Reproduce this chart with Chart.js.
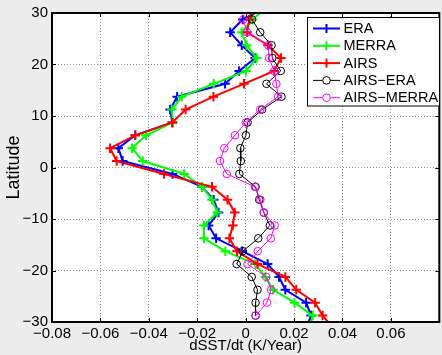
<!DOCTYPE html>
<html>
<head>
<meta charset="utf-8">
<script src="https://cdn.jsdelivr.net/npm/chart.js@4.4.1/dist/chart.umd.min.js"></script>
<style>
  html, body { margin: 0; padding: 0; background: #ececec; overflow: hidden; }
  #grafik { display: block; }
</style>
</head>
<body>
<canvas id="grafik" width="446" height="355"></canvas>
<script>
// latitude of each sample (the outer two lie just outside the axes and get clipped)
const latitude = [31.25, 28.75, 26.25, 23.75, 21.25, 18.75, 16.25, 13.75, 11.25, 8.75, 6.25, 3.75, 1.25,
    -1.25, -3.75, -6.25, -8.75, -11.25, -13.75, -16.25, -18.75, -21.25, -23.75, -26.25, -28.75, -31.25];

const era = [0.0090, -0.0012, -0.0064, -0.0016, 0.0039, -0.0027, -0.0085, -0.0283, -0.0312, -0.0303, -0.0456, -0.0526, -0.0508,
    -0.0302, -0.0180, -0.0132, -0.0112, -0.0153, -0.0122, -0.0014, 0.0091, 0.0138, 0.0164, 0.0250, 0.0270, 0.0250];
const merra = [0.0090, 0.0028, -0.0016, 0.0004, 0.0046, 0.0002, -0.0132, -0.0264, -0.0305, -0.0300, -0.0412, -0.0469, -0.0425,
    -0.0254, -0.0180, -0.0139, -0.0117, -0.0173, -0.0172, -0.0084, 0.0040, 0.0082, 0.0114, 0.0202, 0.0277, 0.0265];
const airs = [0.0050, 0.0015, 0.0006, 0.0092, 0.0146, 0.0118, -0.0007, -0.0133, -0.0248, -0.0303, -0.0456, -0.0560, -0.0533,
    -0.0337, -0.0139, -0.0075, -0.0045, -0.0053, -0.0067, -0.0036, 0.0049, 0.0164, 0.0209, 0.0287, 0.0318, 0.0364];
const airsEra = [null, 0.0026, 0.0060, 0.0107, 0.0110, 0.0145, 0.0086, 0.0148, 0.0068, 0.0008, 0.0001, -0.0022, -0.0020,
    -0.0026, 0.0041, 0.0056, 0.0075, 0.0100, 0.0052, -0.0012, -0.0037, 0.0025, 0.0049, 0.0041, 0.0041, null];
const airsMerra = [null, -0.0010, 0.0006, 0.0093, 0.0097, 0.0118, 0.0127, 0.0134, 0.0060, 0.0001, -0.0044, -0.0088, -0.0106,
    -0.0078, 0.0038, 0.0061, 0.0075, 0.0120, 0.0104, 0.0050, 0.0008, 0.0085, 0.0105, 0.0088, 0.0042, null];

const xTicks = [-0.08, -0.06, -0.04, -0.02, 0, 0.02, 0.04, 0.06];
const yTicks = [-30, -20, -10, 0, 10, 20, 30];

const FONT = 'Liberation Sans, Arial, Helvetica, sans-serif';

function points(values) {
    let out = [];
    values.forEach((v, i) => {
        if (v !== null) out.push({ x: v, y: latitude[i] });
    });
    return out;
}

function fmtX(v) {
    let r = Math.round(v * 100) / 100;
    if (r === 0) return '0';
    return (r < 0 ? '\u2212' : '') + Math.abs(r).toFixed(2);
}

function fmtY(v) {
    return (v < 0 ? '\u2212' : '') + Math.abs(v);
}

function plusSet(label, color, values, order) {
    return {
        label: label, data: points(values), order: order,
        borderColor: color, backgroundColor: color, borderWidth: 2,
        pointStyle: 'cross', pointRadius: 4.7, pointBorderWidth: 2, pointHoverRadius: 4.7,
        showLine: true, clip: 0
    };
}

function circleSet(label, color, values, order) {
    return {
        label: label, data: points(values), order: order,
        borderColor: color, backgroundColor: 'rgba(0,0,0,0)', borderWidth: 1,
        pointStyle: 'circle', pointRadius: 3.8, pointBorderWidth: 1, pointHoverRadius: 3.8,
        showLine: true, clip: 0
    };
}

// white plot area, black frame with inward ticks, boxed legend
const matlabLook = {
    id: 'matlabLook',
    beforeDraw(chart) {
        const { ctx, chartArea: a } = chart;
        ctx.save();
        ctx.fillStyle = '#ececec';
        ctx.fillRect(0, 0, chart.width, chart.height);
        ctx.fillStyle = '#ffffff';
        ctx.fillRect(a.left, a.top, a.right - a.left, a.bottom - a.top);
        ctx.restore();
    },
    afterDraw(chart) {
        const { ctx, chartArea: a } = chart;
        const xs = chart.scales.x, ys = chart.scales.y;
        ctx.save();
        ctx.strokeStyle = '#000';
        ctx.lineWidth = 1;
        ctx.beginPath();
        xTicks.forEach(t => {
            let px = Math.round(xs.getPixelForValue(t)) + 0.5;
            ctx.moveTo(px, a.bottom); ctx.lineTo(px, a.bottom - 4);
            ctx.moveTo(px, a.top); ctx.lineTo(px, a.top + 4);
        });
        yTicks.forEach(t => {
            let py = Math.round(ys.getPixelForValue(t)) + 0.5;
            ctx.moveTo(a.left, py); ctx.lineTo(a.left + 4, py);
            ctx.moveTo(a.right, py); ctx.lineTo(a.right - 4, py);
        });
        ctx.stroke();
        ctx.lineWidth = 2;
        ctx.strokeRect(a.left, a.top, a.right - a.left, a.bottom - a.top);

        // legend
        const lx = 307.5, ly = 17.5, lw = 132, lh = 88.5;
        ctx.fillStyle = '#fff';
        ctx.fillRect(lx, ly, lw, lh);
        ctx.lineWidth = 1;
        ctx.strokeStyle = '#000';
        ctx.strokeRect(lx, ly, lw, lh);
        chart.data.datasets.forEach((ds, k) => {
            const cy = 28.5 + k * 17.3;
            ctx.strokeStyle = ds.borderColor;
            ctx.lineWidth = ds.borderWidth;
            ctx.beginPath();
            ctx.moveTo(313, cy); ctx.lineTo(340, cy);
            ctx.stroke();
            if (ds.pointStyle === 'cross') {
                ctx.beginPath();
                ctx.moveTo(326.5, cy - 4.5); ctx.lineTo(326.5, cy + 4.5);
                ctx.stroke();
            } else {
                ctx.fillStyle = '#fff';
                ctx.beginPath();
                ctx.arc(326.5, cy, 3.8, 0, Math.PI * 2);
                ctx.fill();
                ctx.stroke();
            }
            ctx.fillStyle = '#000';
            ctx.font = '14.5px ' + FONT;
            ctx.textBaseline = 'middle';
            ctx.textAlign = 'left';
            ctx.fillText(ds.label, 343.5, cy + 0.5);
        });
        ctx.restore();
    }
};

const ctx = document.getElementById('grafik');
new Chart(ctx, {
    type: 'scatter',
    data: {
        datasets: [
            plusSet('ERA', '#0000ff', era, 5),
            plusSet('MERRA', '#00ff00', merra, 4),
            plusSet('AIRS', '#ff0000', airs, 3),
            circleSet('AIRS\u2212ERA', '#000000', airsEra, 2),
            circleSet('AIRS\u2212MERRA', '#ff00ff', airsMerra, 1)
        ]
    },
    options: {
        responsive: false,
        animation: false,
        devicePixelRatio: 1,
        layout: { padding: { top: 13, right: 2, left: 0, bottom: 0 } },
        plugins: {
            legend: { display: false },
            tooltip: { enabled: false }
        },
        scales: {
            x: {
                type: 'linear',
                min: -0.08, max: 0.08,
                afterFit(scale) { scale.height = 33; },
                afterBuildTicks(scale) { scale.ticks = xTicks.map(v => ({ value: v })); },
                ticks: {
                    color: '#000', padding: 3, maxRotation: 0, autoSkip: false,
                    font: { family: FONT, size: 15 },
                    callback: v => fmtX(v)
                },
                grid: { color: '#8c8c8c', drawTicks: false, lineWidth: 1 },
                border: { display: false, dash: [1, 2] },
                title: {
                    display: true, text: 'dSST/dt (K/Year)', color: '#000',
                    font: { family: FONT, size: 15 }, padding: { top: 0, bottom: 0 }
                }
            },
            y: {
                type: 'linear',
                min: -30, max: 30,
                afterFit(scale) { scale.width = 52; },
                afterBuildTicks(scale) { scale.ticks = yTicks.map(v => ({ value: v })); },
                ticks: {
                    color: '#000', padding: 4, autoSkip: false,
                    font: { family: FONT, size: 15 },
                    callback: v => fmtY(v)
                },
                grid: { color: '#8c8c8c', drawTicks: false, lineWidth: 1 },
                border: { display: false, dash: [1, 2] },
                title: {
                    display: true, text: 'Latitude', color: '#000',
                    font: { family: FONT, size: 18 }, padding: { top: 3, bottom: 0 }
                }
            }
        }
    },
    plugins: [matlabLook]
});
</script>
</body>
</html>
